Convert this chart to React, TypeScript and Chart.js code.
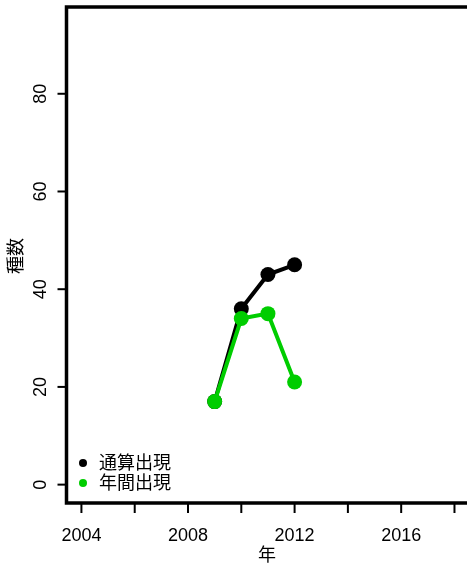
import React, { useEffect, useRef } from "react";
import { Chart, registerables } from "chart.js";

Chart.register(...registerables);

const years = [2009, 2010, 2011, 2012];
const cumulative = [17, 36, 43, 45];
const annual = [17, 34, 35, 21];
const seriesLabels = ["通算出現", "年間出現"];
const seriesColors = ["#000000", "#00CD00"];
const xTicks = [2004, 2006, 2008, 2010, 2012, 2014, 2016, 2018];
const xTickLabels = ["2004", "", "2008", "", "2012", "", "2016", ""];
const yTicks = [0, 20, 40, 60, 80];
const xTitle = "年";
const yTitle = "種数";

const W = 467;
const H = 569;
const FONT = '"Liberation Sans", Arial, "Noto Sans CJK JP", sans-serif';

const axesPlugin = {
  id: "rAxes",
  afterDraw(chart: any) {
    const ctx = chart.ctx;
    const a = chart.chartArea;
    const xs = chart.scales.x;
    const ys = chart.scales.y;
    ctx.save();
    // box (left, top, bottom)
    ctx.strokeStyle = "#000";
    ctx.lineWidth = 3.5;
    ctx.lineCap = "square";
    ctx.beginPath();
    ctx.moveTo(a.right + 5, a.top);
    ctx.lineTo(a.left, a.top);
    ctx.lineTo(a.left, a.bottom);
    ctx.lineTo(a.right + 5, a.bottom);
    ctx.stroke();
    // ticks
    ctx.lineWidth = 2;
    ctx.lineCap = "butt";
    ctx.fillStyle = "#000";
    ctx.font = `18px ${FONT}`;
    xTicks.forEach((t, i) => {
      const px = xs.getPixelForValue(t);
      ctx.beginPath();
      ctx.moveTo(px, a.bottom);
      ctx.lineTo(px, a.bottom + 10);
      ctx.stroke();
      if (xTickLabels[i]) {
        ctx.textAlign = "center";
        ctx.textBaseline = "middle";
        ctx.fillText(xTickLabels[i], px, 536);
      }
    });
    yTicks.forEach((t) => {
      const py = ys.getPixelForValue(t);
      ctx.beginPath();
      ctx.moveTo(a.left, py);
      ctx.lineTo(a.left - 9, py);
      ctx.stroke();
      ctx.save();
      ctx.translate(41, py);
      ctx.rotate(-Math.PI / 2);
      ctx.textAlign = "center";
      ctx.textBaseline = "middle";
      ctx.fillText(String(t), 0, 0);
      ctx.restore();
    });
    // titles
    ctx.textAlign = "center";
    ctx.textBaseline = "middle";
    ctx.fillText(xTitle, 267, 556);
    ctx.save();
    ctx.translate(17, 256);
    ctx.rotate(-Math.PI / 2);
    ctx.fillText(yTitle, 0, 0);
    ctx.restore();
    // legend
    ctx.font = `18px ${FONT}`;
    ctx.textAlign = "left";
    seriesLabels.forEach((lab, i) => {
      const cy = 463 + i * 20;
      ctx.fillStyle = seriesColors[i];
      ctx.beginPath();
      ctx.arc(83, cy, 4, 0, Math.PI * 2);
      ctx.fill();
      ctx.fillStyle = "#000";
      ctx.fillText(lab, 99, cy + 1);
    });
    ctx.restore();
  },
};

export default function App() {
  const ref = useRef<HTMLCanvasElement | null>(null);
  useEffect(() => {
    if (!ref.current) return;
    const mk = (vals: number[]) => years.map((y, i) => ({ x: y, y: vals[i] }));
    const chart = new Chart(ref.current, {
      type: "line",
      data: {
        datasets: [
          {
            label: seriesLabels[0],
            data: mk(cumulative),
            borderColor: seriesColors[0],
            backgroundColor: seriesColors[0],
            borderWidth: 4,
            pointRadius: 7.5,
            pointBorderWidth: 0,
            tension: 0,
            order: 1,
          },
          {
            label: seriesLabels[1],
            data: mk(annual),
            borderColor: seriesColors[1],
            backgroundColor: seriesColors[1],
            borderWidth: 4,
            pointRadius: 7.5,
            pointBorderWidth: 0,
            tension: 0,
            order: 0,
          },
        ],
      },
      options: {
        responsive: false,
        animation: false,
        events: [],
        layout: { autoPadding: false, padding: { left: 66.5, top: 7, right: 0, bottom: 66 } },
        plugins: { legend: { display: false }, tooltip: { enabled: false } },
        scales: {
          x: { type: "linear", display: false, min: 2003.44, max: 2018.47 },
          y: { type: "linear", display: false, min: -3.76, max: 97.76 },
        },
      },
      plugins: [axesPlugin],
    });
    return () => chart.destroy();
  }, []);
  return (
    <div style={{ position: "absolute", left: 0, top: 0, width: W, height: H, background: "#fff" }}>
      <canvas ref={ref} width={W} height={H} style={{ width: W, height: H, display: "block" }} />
    </div>
  );
}
